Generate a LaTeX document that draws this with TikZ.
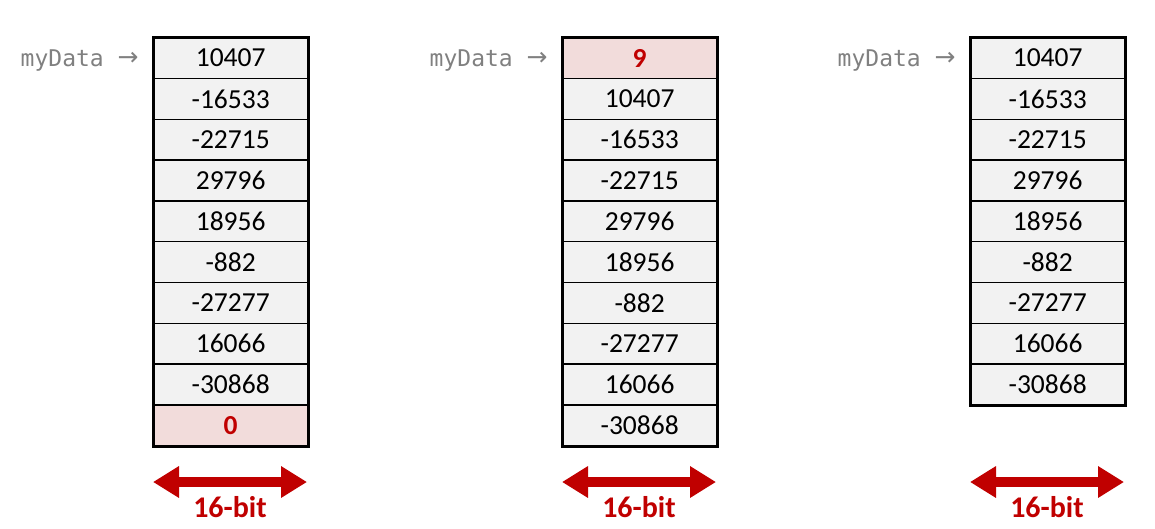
\documentclass[tikz,border=0pt]{standalone}
\usepackage{fontspec}
\setmainfont{Carlito}
\newfontfamily\monofont{DejaVu Sans Mono}
\newfontfamily\arrowfont{DejaVu Sans}
\usetikzlibrary{arrows.meta}
\definecolor{cellgray}{HTML}{F2F2F2}
\definecolor{cellred}{HTML}{F2DCDB}
\definecolor{darkred}{HTML}{C00000}
\definecolor{labelgray}{HTML}{808080}
\tikzset{
  cell/.style={draw=black, line width=1.3pt, fill=cellgray, minimum width=154pt, minimum height=40.8pt, inner sep=0pt, anchor=north west, font=\fontsize{27.5}{29}\selectfont},
  redcell/.style={cell, fill=cellred, text=darkred, font=\fontsize{27.5}{29}\selectfont\bfseries},
  frame/.style={draw=black, line width=3pt},
  ptrlabel/.style={text=labelgray, font=\monofont\fontsize{23}{25}\selectfont, anchor=east, inner sep=0pt},
  ptrarrow/.style={text=labelgray, font=\arrowfont\fontsize{25}{27}\selectfont, inner sep=0pt},
  widtharrow/.style={draw=darkred, line width=10pt, {Triangle[length=26pt,width=30pt]}-{Triangle[length=26pt,width=30pt]}},
  bitlabel/.style={text=darkred, font=\fontsize{30}{32}\selectfont\bfseries, inner sep=0pt}
}
\begin{document}
\begin{tikzpicture}[x=1pt,y=-1pt]
\useasboundingbox (0,0) rectangle (1155,528);
% column 1
\foreach \v [count=\i] in {10407,-16533,-22715,29796,18956,-882,-27277,16066,-30868} {
  \node[cell] (a\i) at (153,{37+(\i-1)*40.8}) {\v};
}
\node[redcell] (a10) at (153,{37+9*40.8}) {0};
\draw[frame] (a1.north west) rectangle (a10.south east);
% column 2
\node[redcell] (b1) at (562,37) {9};
\foreach \v [count=\i from 2] in {10407,-16533,-22715,29796,18956,-882,-27277,16066,-30868} {
  \node[cell] (b\i) at (562,{37+(\i-1)*40.8}) {\v};
}
\draw[frame] (b1.north west) rectangle (b10.south east);
% column 3
\foreach \v [count=\i] in {10407,-16533,-22715,29796,18956,-882,-27277,16066,-30868} {
  \node[cell] (c\i) at (970,{37+(\i-1)*40.8}) {\v};
}
\draw[frame] (c1.north west) rectangle (c9.south east);
% pointer labels
\foreach \n/\x in {a/153,b/562,c/970} {
  \node[ptrlabel] (\n ptr) at (\x-49,61) {myData};
  \node[ptrarrow] (\n arr) at (\x-25,59) {→};
}
% width arrows
\foreach \n/\x in {a/153,b/562,c/970} {
  \coordinate (\n L) at (\x,482);
  \coordinate (\n R) at (\x+154,482);
  \draw[widtharrow] (\n L) -- (\n R);
  \node[bitlabel] (\n bit) at (\x+77,507) {16-bit};
}
\end{tikzpicture}
\end{document}
